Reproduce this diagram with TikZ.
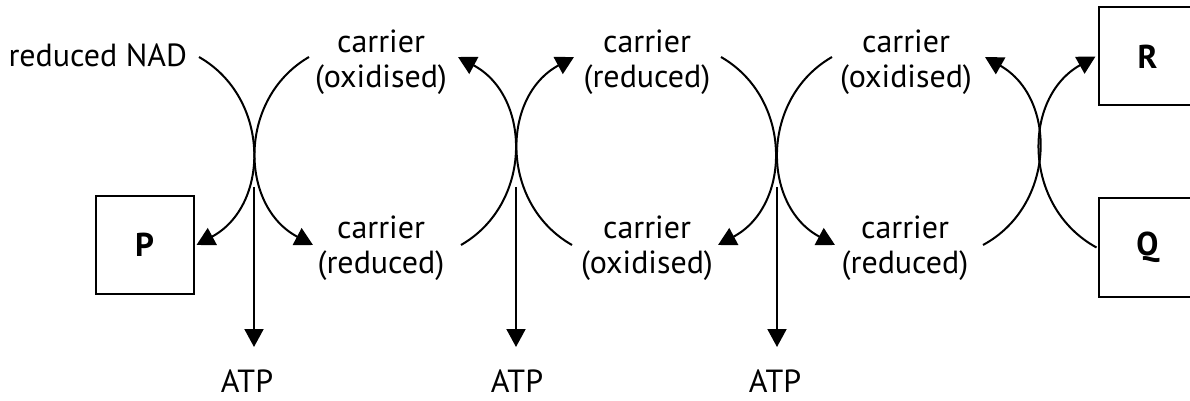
\documentclass[tikz,border=0pt]{standalone}
\usepackage{fontspec}
\setmainfont{PT Sans}
\usetikzlibrary{arrows.meta}
\begin{document}
\begin{tikzpicture}[x=0.5pt,y=-0.5pt,
  line width=1pt,
  lbl/.style={font=\fontsize{16}{17.5}\selectfont, inner sep=0pt, align=center},
  box/.style={draw, line width=1pt, minimum width=49pt, minimum height=49pt, inner sep=0pt,
    font=\fontsize{16.5}{17.5}\selectfont\bfseries},
  conn/.style={-{Triangle[length=9pt,width=9.5pt]}},
  bl/.style={bend left=61, looseness=1.13},
  br/.style={bend right=61, looseness=1.13}
]
\clip (0,0) rectangle (1190,401);
% labels
\node[lbl, anchor=base east] (nad) at (188,67) {reduced NAD};
\node[lbl] (c1) at (381,62.5) {carrier\\(oxidised)};
\node[lbl] (c2) at (647,62.5) {carrier\\(reduced)};
\node[lbl] (c3) at (906,62.5) {carrier\\(oxidised)};
\node[lbl] (c4) at (381,248) {carrier\\(reduced)};
\node[lbl] (c5) at (647,248) {carrier\\(oxidised)};
\node[lbl] (c6) at (905,248) {carrier\\(reduced)};
\node[lbl, anchor=base] (atp1) at (247,392) {ATP};
\node[lbl, anchor=base] (atp2) at (517,392) {ATP};
\node[lbl, anchor=base] (atp3) at (775,392) {ATP};
% boxes
\node[box] (P) at (144.5,245) {P};
\node[box] (R) at (1147.5,56.5) {R};
\node[box] (Q) at (1147.5,247.5) {Q};
% connector ends
\coordinate (a1s) at (199,57);
\coordinate (a2s) at (309,57);  \coordinate (a2e) at (313,245);
\coordinate (a3s) at (461,245); \coordinate (a3e) at (458,57);
\coordinate (a4s) at (572,245); \coordinate (a4e) at (574,57);
\coordinate (a5s) at (721,57);  \coordinate (a5e) at (718,245);
\coordinate (a6s) at (832,57);  \coordinate (a6e) at (835,245);
\coordinate (a7s) at (983,245); \coordinate (a7e) at (985,57);
\coordinate (t1s) at (254,187); \coordinate (t1e) at (254,347);
\coordinate (t2s) at (516,187); \coordinate (t2e) at (516,347);
\coordinate (t3s) at (777,187); \coordinate (t3e) at (777,347);
% curved connectors
\draw[conn] (a1s) to[bl] ([xshift=1pt]P.east);
\draw[conn] (a2s) to[br] (a2e);
\draw[conn] (a3s) to[br] (a3e);
\draw[conn] (a4s) to[bl] (a4e);
\draw[conn] (a5s) to[bl] (a5e);
\draw[conn] (a6s) to[br] (a6e);
\draw[conn] (a7s) to[br] (a7e);
\draw[conn] ([xshift=-0.5pt]Q.west) to[bl] ([xshift=-1pt]R.west);
% ATP arrows
\draw[conn] (t1s) -- (t1e);
\draw[conn] (t2s) -- (t2e);
\draw[conn] (t3s) -- (t3e);
\end{tikzpicture}
\end{document}
